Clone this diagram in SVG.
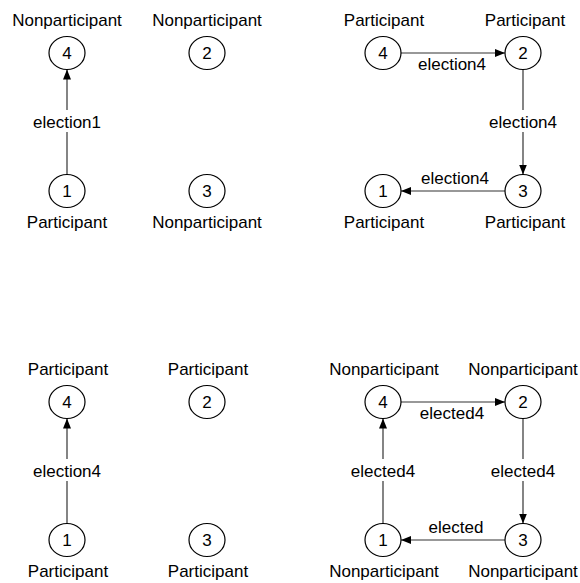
<svg xmlns="http://www.w3.org/2000/svg" width="580" height="583" viewBox="0 0 580 583">
<style>
text{font-family:"Liberation Sans",Arial,Helvetica,sans-serif;font-size:17px;fill:#000;text-anchor:middle}
.node ellipse{fill:#fff;stroke:#000;stroke-width:1.2}
.edge{stroke:#333;stroke-width:1.2;fill:none;marker-end:url(#ah)}
.bg{fill:#fff}
</style>
<defs>
<marker id="ah" markerUnits="userSpaceOnUse" markerWidth="10" markerHeight="8" refX="10" refY="4" orient="auto">
<path d="M0,0 L10,4 L0,8 z" fill="#000"/>
</marker>
</defs>
<rect width="580" height="583" fill="#fff"/>
<g id="connectors">
<!-- panel 1 -->
<line class="edge" x1="67" y1="174.5" x2="67" y2="69.5"/>
<!-- panel 2 -->
<line class="edge" x1="401" y1="53" x2="505" y2="53"/>
<line class="edge" x1="523" y1="69.5" x2="523" y2="174.5"/>
<line class="edge" x1="505" y1="191" x2="401" y2="191"/>
<!-- panel 3 -->
<line class="edge" x1="67" y1="523.5" x2="67" y2="418.5"/>
<!-- panel 4 -->
<line class="edge" x1="401" y1="402" x2="505" y2="402"/>
<line class="edge" x1="523" y1="418.5" x2="523" y2="523.5"/>
<line class="edge" x1="505" y1="540" x2="401" y2="540"/>
<line class="edge" x1="383" y1="523.5" x2="383" y2="418.5"/>
</g>
<g id="edge-labels">
<rect class="bg" x="31" y="110" width="72" height="22"/>
<text x="67" y="128">election1</text>
<text x="452" y="70">election4</text>
<rect class="bg" x="486" y="110" width="74" height="22"/>
<text x="523" y="128">election4</text>
<text x="455" y="184">election4</text>
<rect class="bg" x="30" y="459" width="74" height="22"/>
<text x="67" y="477">election4</text>
<text x="452" y="419">elected4</text>
<rect class="bg" x="347" y="459" width="72" height="22"/>
<text x="383" y="477">elected4</text>
<rect class="bg" x="487" y="459" width="72" height="22"/>
<text x="523" y="477">elected4</text>
<text x="456" y="533">elected</text>
</g>
<!-- panel 1 nodes -->
<g id="p1-n4" class="node"><ellipse cx="67" cy="53" rx="18" ry="16.5"/><text x="67" y="59">4</text><text x="67" y="26">Nonparticipant</text></g>
<g id="p1-n2" class="node"><ellipse cx="207" cy="53" rx="18" ry="16.5"/><text x="207" y="59">2</text><text x="207" y="26">Nonparticipant</text></g>
<g id="p1-n1" class="node"><ellipse cx="67" cy="191" rx="18" ry="16.5"/><text x="67" y="197">1</text><text x="67" y="228">Participant</text></g>
<g id="p1-n3" class="node"><ellipse cx="207" cy="191" rx="18" ry="16.5"/><text x="207" y="197">3</text><text x="207" y="228">Nonparticipant</text></g>
<!-- panel 2 nodes -->
<g id="p2-n4" class="node"><ellipse cx="383" cy="53" rx="18" ry="16.5"/><text x="383" y="59">4</text><text x="384" y="26">Participant</text></g>
<g id="p2-n2" class="node"><ellipse cx="523" cy="53" rx="18" ry="16.5"/><text x="523" y="59">2</text><text x="525" y="26">Participant</text></g>
<g id="p2-n1" class="node"><ellipse cx="383" cy="191" rx="18" ry="16.5"/><text x="383" y="197">1</text><text x="384" y="228">Participant</text></g>
<g id="p2-n3" class="node"><ellipse cx="523" cy="191" rx="18" ry="16.5"/><text x="523" y="197">3</text><text x="525" y="228">Participant</text></g>
<!-- panel 3 nodes -->
<g id="p3-n4" class="node"><ellipse cx="67" cy="402" rx="18" ry="16.5"/><text x="67" y="408">4</text><text x="68" y="375">Participant</text></g>
<g id="p3-n2" class="node"><ellipse cx="207" cy="402" rx="18" ry="16.5"/><text x="207" y="408">2</text><text x="208" y="375">Participant</text></g>
<g id="p3-n1" class="node"><ellipse cx="67" cy="540" rx="18" ry="16.5"/><text x="67" y="546">1</text><text x="68" y="577">Participant</text></g>
<g id="p3-n3" class="node"><ellipse cx="207" cy="540" rx="18" ry="16.5"/><text x="207" y="546">3</text><text x="208" y="577">Participant</text></g>
<!-- panel 4 nodes -->
<g id="p4-n4" class="node"><ellipse cx="383" cy="402" rx="18" ry="16.5"/><text x="383" y="408">4</text><text x="384" y="375">Nonparticipant</text></g>
<g id="p4-n2" class="node"><ellipse cx="523" cy="402" rx="18" ry="16.5"/><text x="523" y="408">2</text><text x="523" y="375">Nonparticipant</text></g>
<g id="p4-n1" class="node"><ellipse cx="383" cy="540" rx="18" ry="16.5"/><text x="383" y="546">1</text><text x="384" y="577">Nonparticipant</text></g>
<g id="p4-n3" class="node"><ellipse cx="523" cy="540" rx="18" ry="16.5"/><text x="523" y="546">3</text><text x="523" y="577">Nonparticipant</text></g>
</svg>
